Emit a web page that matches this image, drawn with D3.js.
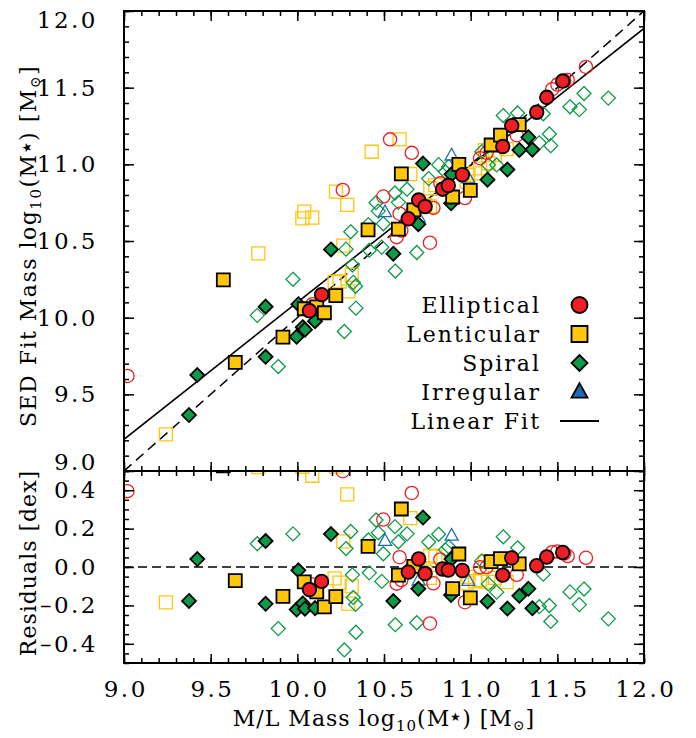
<!DOCTYPE html>
<html lang="en">
<head>
<meta charset="UTF-8">
<title>SED Fit Mass vs M/L Mass</title>
<script src="https://d3js.org/d3.v7.min.js"></script>
<style>
  body { margin: 0; background: white; }
  svg text { font-family: "DejaVu Serif", serif; font-size: 22px; fill: black; letter-spacing: 1px; }
  .tick text { font-size: 23px; letter-spacing: 2.5px; }
  .legend text { letter-spacing: 2px; }
  .frame { fill: none; stroke: black; stroke-width: 2px; }
  .tick line { stroke: black; stroke-width: 1.5px; }
  .domain { display: none; }
</style>
</head>
<body>
<svg id="svg" width="696" height="738"></svg>
<script>
// values: [M/L mass, SED fit mass]
const ellipticalFilled = [
  [10.07, 10.045], [10.14, 10.15], [10.64, 10.645], [10.70, 10.767], [10.737, 10.724],
  [10.838, 10.838], [10.871, 10.862], [10.952, 10.932], [11.185, 11.116], [11.237, 11.252],
  [11.381, 11.34], [11.439, 11.437], [11.531, 11.543]
];
const ellipticalOpen = [
  [9.02, 9.62], [10.088, 10.088], [10.262, 10.833], [10.496, 10.79], [10.535, 11.163],
  [10.573, 10.525], [10.60, 10.568], [10.59, 10.678], [10.66, 10.685], [10.66, 11.075],
  [10.765, 10.489], [10.785, 10.716], [10.825, 10.876], [10.967, 10.78], [11.054, 11.04],
  [11.092, 11.075], [11.266, 11.19], [11.47, 11.49], [11.50, 11.52], [11.54, 11.545],
  [11.56, 11.55], [11.665, 11.635]
];
const lenticularFilled = [
  [9.573, 10.246], [9.642, 9.709], [9.917, 9.873], [10.04, 10.058], [10.112, 10.07],
  [10.156, 10.032], [10.222, 10.144], [10.408, 10.572], [10.583, 10.578], [10.60, 10.938],
  [10.672, 10.703], [10.896, 10.787], [10.932, 11.0], [10.998, 10.83], [11.118, 11.126],
  [11.172, 11.19], [11.28, 11.259]
];
const lenticularOpen = [
  [9.242, 9.239], [9.775, 10.419], [10.029, 10.648], [10.04, 10.691], [10.086, 10.652],
  [10.215, 10.233], [10.223, 10.822], [10.244, 10.236], [10.265, 10.47], [10.288, 10.735],
  [10.294, 10.172], [10.314, 10.28], [10.429, 11.082], [10.59, 11.163], [10.652, 10.937],
  [10.708, 10.726], [10.738, 10.735], [10.765, 10.726], [10.767, 10.844], [10.796, 10.865],
  [10.977, 10.887], [10.987, 10.93], [11.025, 10.941], [11.054, 10.974], [11.083, 11.093],
  [11.102, 11.007], [11.14, 11.061], [11.208, 11.1]
];
const spiralFilled = [
  [9.375, 9.365], [9.423, 9.626], [9.817, 9.745], [9.817, 10.072], [9.996, 9.875],
  [10.006, 10.088], [10.031, 9.938], [10.044, 9.922], [10.102, 9.977], [10.194, 10.445],
  [10.554, 10.417], [10.698, 10.61], [10.725, 11.005], [10.887, 10.746], [10.889, 10.935],
  [11.097, 10.9], [11.212, 10.966], [11.281, 11.094], [11.333, 11.177], [11.356, 11.096]
];
const spiralOpen = [
  [9.769, 10.015], [9.89, 9.681], [9.975, 10.25], [10.271, 9.91], [10.281, 10.447],
  [10.308, 10.56], [10.318, 10.343], [10.323, 10.23], [10.338, 10.062], [10.336, 10.205],
  [10.41, 10.607], [10.415, 10.44], [10.454, 10.75], [10.467, 10.695], [10.487, 10.46],
  [10.496, 10.612], [10.563, 10.813], [10.565, 10.304], [10.583, 10.752], [10.633, 10.838],
  [10.689, 10.425], [10.758, 10.907], [10.815, 10.998], [10.854, 10.952], [10.873, 10.985],
  [11.064, 11.082], [11.102, 10.996], [11.15, 10.996], [11.188, 11.318], [11.271, 11.335],
  [11.396, 11.14], [11.419, 11.33], [11.454, 11.198], [11.462, 11.122], [11.573, 11.375],
  [11.627, 11.357], [11.654, 11.462], [11.794, 11.432]
];
const irregularOpen = [
  [10.506, 10.688], [10.70, 10.655], [10.89, 11.058], [10.987, 10.909]
];

// linear fit to the points, y = a + b x
const fitA = 1.17, fitB = 0.893;

const massTicks = [9.0, 9.5, 10.0, 10.5, 11.0, 11.5, 12.0];
const residTicks = [-0.4, -0.2, 0.0, 0.2, 0.4];
const legendNames = ["Elliptical", "Lenticular", "Spiral", "Irregular", "Linear Fit"];

const red = "#ED1F24", gold = "#FFC60B", green = "#0C9A48", blue = "#1C6CB4";

// Layout
const L = 124, R = 644, T = 11, MID = 471, B = 663;
const x = d3.scaleLinear().domain([9, 12]).range([L, R]);
const yTop = d3.scaleLinear().domain([9, 12]).range([MID, T]);
const yBot = d3.scaleLinear().domain([-0.5, 0.5]).range([B, MID]);
const fit = v => fitA + fitB * v;

const svg = d3.select("#svg");
const defs = svg.append("defs");
defs.append("clipPath").attr("id", "clipTop")
  .append("rect").attr("x", L).attr("y", T).attr("width", R - L).attr("height", MID - T);
defs.append("clipPath").attr("id", "clipBot")
  .append("rect").attr("x", L).attr("y", MID).attr("width", R - L).attr("height", B - MID);

function marker(kind, r) {
  if (kind == "circle") return d3.symbol(d3.symbolCircle, Math.PI * r * r)();
  if (kind == "square") return `M${-r},${-r}H${r}V${r}H${-r}Z`;
  if (kind == "diamond") return `M0,${-r}L${r},0L0,${r}L${-r},0Z`;
  return `M0,${-r * 1.1}L${r},${r * 0.7}L${-r},${r * 0.7}Z`;
}

const groups = [
  { data: lenticularOpen, kind: "square", r: 6.5, color: gold, filled: false },
  { data: spiralOpen, kind: "diamond", r: 7, color: green, filled: false },
  { data: ellipticalOpen, kind: "circle", r: 6.6, color: red, filled: false },
  { data: irregularOpen, kind: "triangle", r: 6.5, color: blue, filled: false },
  { data: spiralFilled, kind: "diamond", r: 7, color: green, filled: true },
  { data: lenticularFilled, kind: "square", r: 6.5, color: gold, filled: true },
  { data: ellipticalFilled, kind: "circle", r: 6.8, color: red, filled: true }
];

function drawPoints(panel, yScale, yOf) {
  groups.forEach(g => {
    panel.append("g").selectAll("path")
      .data(g.data)
      .join("path")
      .attr("transform", d => `translate(${x(d[0])},${yScale(yOf(d))})`)
      .attr("d", marker(g.kind, g.r))
      .attr("fill", g.filled ? g.color : "none")
      .attr("stroke", g.filled ? "black" : g.color)
      .attr("stroke-width", g.filled ? 1.8 : 1.3);
  });
}

// Top panel
const topPanel = svg.append("g").attr("clip-path", "url(#clipTop)");
topPanel.append("line")
  .attr("x1", x(9)).attr("y1", yTop(9)).attr("x2", x(12)).attr("y2", yTop(12))
  .attr("stroke", "black").attr("stroke-width", 1.5).attr("stroke-dasharray", "10,6");
topPanel.append("line")
  .attr("x1", x(9)).attr("y1", yTop(fit(9))).attr("x2", x(12)).attr("y2", yTop(fit(12)))
  .attr("stroke", "black").attr("stroke-width", 1.6);
drawPoints(topPanel, yTop, d => d[1]);

// Bottom panel (residuals about the fit)
const botPanel = svg.append("g").attr("clip-path", "url(#clipBot)");
botPanel.append("line")
  .attr("x1", x(9)).attr("x2", x(12)).attr("y1", yBot(0)).attr("y2", yBot(0))
  .attr("stroke", "black").attr("stroke-width", 1.5).attr("stroke-dasharray", "9,5");
drawPoints(botPanel, yBot, d => d[1] - fit(d[0]));

// Axes with inward ticks on all sides
const fmt = d3.format(".1f");
const fmtResid = d => fmt(d).replace("−", "–");
const xMinor = d3.range(9, 12.001, 0.1);
function axes(yScale, yMajor, yMinor, yFmt, y0, y1, labelX) {
  const add = (tr, ax) => svg.append("g").attr("transform", tr).call(ax);
  add(`translate(${L},0)`, d3.axisLeft(yScale).tickValues(yMajor).tickSize(-10).tickPadding(26).tickFormat(yFmt));
  add(`translate(${L},0)`, d3.axisLeft(yScale).tickValues(yMinor).tickSize(-5).tickFormat(""));
  add(`translate(${R},0)`, d3.axisRight(yScale).tickValues(yMajor).tickSize(-10).tickFormat(""));
  add(`translate(${R},0)`, d3.axisRight(yScale).tickValues(yMinor).tickSize(-5).tickFormat(""));
  add(`translate(0,${y0})`, d3.axisTop(x).tickValues(massTicks).tickSize(-10).tickFormat(""));
  add(`translate(0,${y0})`, d3.axisTop(x).tickValues(xMinor).tickSize(-5).tickFormat(""));
  add(`translate(0,${y1})`, d3.axisBottom(x).tickValues(massTicks).tickSize(-9).tickPadding(18)
    .tickFormat(labelX ? fmt : ""));
  add(`translate(0,${y1})`, d3.axisBottom(x).tickValues(xMinor).tickSize(-5).tickFormat(""));
  svg.append("rect").attr("class", "frame")
    .attr("x", L).attr("y", y0).attr("width", R - L).attr("height", y1 - y0);
}
axes(yTop, massTicks, d3.range(9, 12.001, 0.1), fmt, T, MID, false);
axes(yBot, residTicks, d3.range(-0.5, 0.501, 0.05), fmtResid, MID, B, true);

// x labels centred on the glyphs (letter-spacing adds a trailing gap)
svg.selectAll("g.tick text").filter(function () {
  return this.getAttribute("x") == null || this.getAttribute("x") == "0";
}).attr("dx", "1.25");

// end labels of the top panel sit inside the frame
svg.selectAll("g.tick text").filter(function () {
  return this.textContent == "12.0" && this.getAttribute("x") < 0;
}).attr("dy", "0.7em");
svg.selectAll("g.tick text").filter(function () {
  return this.textContent == "9.0" && this.getAttribute("x") < 0;
}).attr("dy", "-0.05em");

// Axis titles
function massTitle(t, prefix) {
  t.append("tspan").text(prefix + " log");
  t.append("tspan").attr("font-size", "15px").attr("dy", 5).text("10");
  t.append("tspan").attr("dy", -5).text("(M");
  t.append("tspan").attr("font-size", "12px").attr("dy", -5).text("★");
  t.append("tspan").attr("dy", 5).text(") [M");
  t.append("tspan").attr("font-size", "14px").attr("dy", 4).text("⊙");
  t.append("tspan").attr("dy", -4).text("]");
}
massTitle(svg.append("text").attr("text-anchor", "middle").style("letter-spacing", "1.5px")
  .attr("transform", `translate(36,${(T + MID) / 2 + 5}) rotate(-90)`), "SED Fit Mass");
svg.append("text").attr("text-anchor", "middle")
  .attr("transform", `translate(36,${(MID + B) / 2 - 4}) rotate(-90)`)
  .text("Residuals [dex]");
massTitle(svg.append("text").attr("text-anchor", "middle")
  .attr("x", (L + R) / 2).attr("y", 726), "M/L Mass");

// Legend
const legendKinds = [
  { kind: "circle", color: red }, { kind: "square", color: gold },
  { kind: "diamond", color: green }, { kind: "triangle", color: blue }, { kind: "line" }
];
const legend = svg.append("g").attr("class", "legend");
legendNames.forEach((name, i) => {
  const yy = 313 + i * 29;
  legend.append("text").attr("x", 541).attr("y", yy).attr("text-anchor", "end").text(name);
  const k = legendKinds[i];
  if (k.kind == "line") {
    legend.append("line").attr("x1", 560).attr("x2", 599).attr("y1", yy - 8).attr("y2", yy - 8)
      .attr("stroke", "black").attr("stroke-width", 1.8);
  } else {
    legend.append("path").attr("transform", `translate(579.5,${yy - 8})`)
      .attr("d", marker(k.kind, 8)).attr("fill", k.color)
      .attr("stroke", "black").attr("stroke-width", 1.8);
  }
});
</script>
</body>
</html>
